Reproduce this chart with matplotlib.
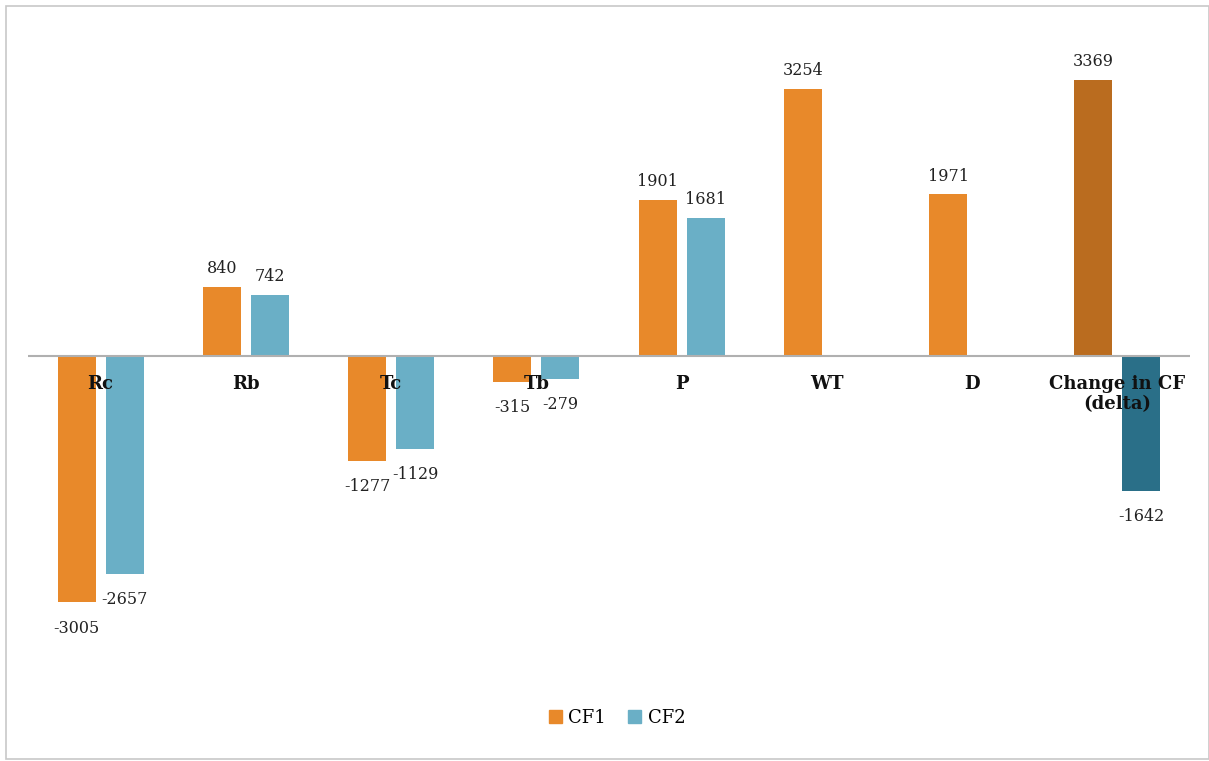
import numpy as np
import matplotlib.pyplot as plt
from matplotlib.patches import Rectangle, Patch

categories = ["Rc", "Rb", "Tc", "Tb", "P", "WT", "D", "Change in CF\n(delta)"]
cf1 = [-3005, 840, -1277, -315, 1901, 3254, 1971, 3369]
cf2 = [-2657, 742, -1129, -279, 1681, np.nan, np.nan, -1642]

c_cf1 = "#E8892A"
c_cf2 = "#6AAFC6"
c_delta1 = "#BA6C1F"
c_delta2 = "#2A6F88"

plt.rcParams['font.family'] = ['DejaVu Serif']

W, H = 1209, 761
fig = plt.figure(figsize=(W / 100, H / 100), dpi=100)
# axes placed in pixel coords: x 28..1190, y 28..684
ax = fig.add_axes([28 / W, 1 - 684 / H, (1190 - 28) / W, (684 - 28) / H])
ax.set_xlim(-0.5, len(categories) - 0.5)
ax.set_ylim(-4000, 4000)
ax.axis('off')

x = np.arange(len(categories))
bw = 0.262
off = 0.165

cols1 = [c_cf1] * 7 + [c_delta1]
cols2 = [c_cf2] * 7 + [c_delta2]
ax.bar(x - off, cf1, bw, color=cols1, zorder=2)
ax.bar(x + off, np.nan_to_num(cf2), bw, color=cols2, zorder=2)
ax.axhline(0, color="#b0b0b0", lw=1.5, zorder=3)

def label(xp, v):
    if np.isnan(v):
        return
    if v >= 0:
        ax.text(xp, v + 120, f"{int(v)}", ha='center', va='bottom', fontsize=11.5, color="#222222")
    else:
        ax.text(xp, v - 210, f"{int(v)}", ha='center', va='top', fontsize=11.5, color="#222222")

for i in range(len(categories)):
    label(x[i] - off, cf1[i])
    label(x[i] + off, cf2[i])
    ax.text(x[i], -230, categories[i], ha='center', va='top', fontsize=13,
            fontweight='bold', color="#111111", linespacing=1.15, zorder=4)

handles = [Patch(color=c_cf1, label="CF1"), Patch(color=c_cf2, label="CF2")]
fig.legend(handles=handles, loc='center', bbox_to_anchor=(617 / W, 1 - 718 / H), ncol=2,
           frameon=False, fontsize=13, handlelength=0.75, handleheight=0.75,
           handletextpad=0.35, columnspacing=1.2)

fig.patches.append(Rectangle((6 / W, 2 / H), 1 - 6 / W, 1 - 8 / H, transform=fig.transFigure,
                             fill=False, edgecolor="#c8c8c8", lw=1.2))

fig.savefig("out.png", dpi=100)
